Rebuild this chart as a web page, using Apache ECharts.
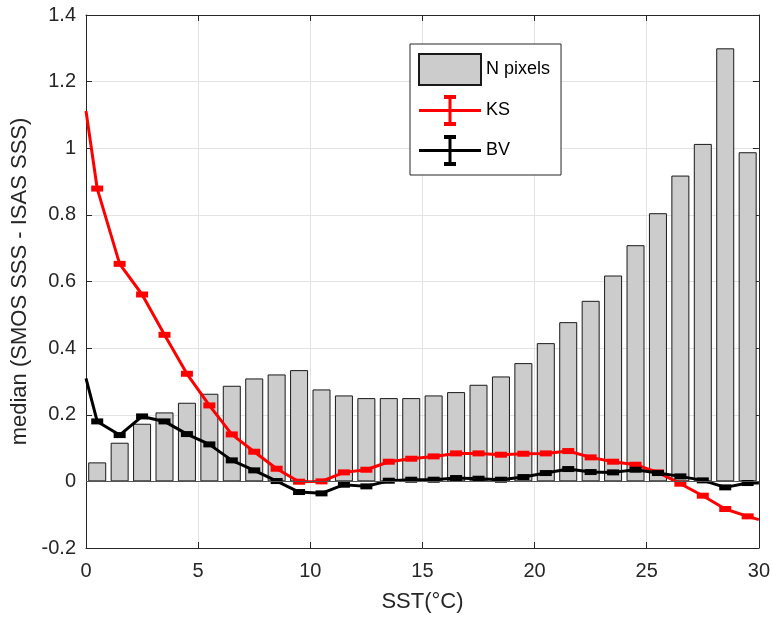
<!DOCTYPE html>
<html lang="en">
<head>
    <meta charset="UTF-8">
    <title>median SMOS - ISAS</title>
    <script type="text/javascript" src="https://cdn.jsdelivr.net/npm/echarts@6/dist/echarts.min.js"></script>
    <style>
        html, body { margin: 0; padding: 0; background: #fff; }
        #chart { width: 773px; height: 618px; }
    </style>
</head>
<body>
<div id="chart"></div>
<script type="text/javascript">
// bar centres (SST bins)
var sstMid = [0.5, 1.5, 2.5, 3.5, 4.5, 5.5, 6.5, 7.5, 8.5, 9.5,
              10.5, 11.5, 12.5, 13.5, 14.5, 15.5, 16.5, 17.5, 18.5, 19.5,
              20.5, 21.5, 22.5, 23.5, 24.5, 25.5, 26.5, 27.5, 28.5, 29.5];
// N pixels (scaled, drawn on the same axis)
var nPixels = [0.057, 0.116, 0.173, 0.207, 0.236, 0.263, 0.287, 0.309, 0.321, 0.334,
               0.276, 0.258, 0.250, 0.250, 0.250, 0.258, 0.268, 0.290, 0.315, 0.355,
               0.415, 0.478, 0.542, 0.618, 0.709, 0.805, 0.918, 1.013, 1.300, 0.988];
// line x positions: end points 0 and 30 plus bin centres
var lineX = [0, 0.5, 1.5, 2.5, 3.5, 4.5, 5.5, 6.5, 7.5, 8.5, 9.5,
             10.5, 11.5, 12.5, 13.5, 14.5, 15.5, 16.5, 17.5, 18.5, 19.5,
             20.5, 21.5, 22.5, 23.5, 24.5, 25.5, 26.5, 27.5, 28.5, 29.5, 30];
var ks = [1.112, 0.879, 0.653, 0.561, 0.440, 0.323, 0.228, 0.141, 0.089, 0.038, -0.001,
          0.000, 0.027, 0.035, 0.059, 0.068, 0.075, 0.084, 0.084, 0.080, 0.083,
          0.084, 0.091, 0.072, 0.059, 0.050, 0.027, -0.007, -0.043, -0.083, -0.105, -0.115];
var bv = [0.309, 0.180, 0.139, 0.195, 0.180, 0.142, 0.111, 0.063, 0.033, 0.001, -0.032,
          -0.036, -0.010, -0.015, 0.002, 0.005, 0.005, 0.010, 0.008, 0.005, 0.013,
          0.025, 0.037, 0.028, 0.027, 0.035, 0.025, 0.015, 0.003, -0.018, -0.005, -0.005];

var chart = echarts.init(document.getElementById('chart'));
var font = 'Liberation Sans, Arial, sans-serif';
var txt = '#262626';

function pairs(xs, ys) {
    var out = [];
    for (var i = 0; i < xs.length; i++) {
        var item = { value: [xs[i], ys[i]] };
        // no marker on the extrapolated end points
        if (i === 0 || i === xs.length - 1) item.symbol = 'none';
        out.push(item);
    }
    return out;
}
var barData = [];
for (var i = 0; i < sstMid.length; i++) barData.push([sstMid[i], nPixels[i]]);

// errorbar-like legend icon (62 x 31 box)
var errIcon = 'path://M0 14L62 14L62 17L0 17Z M29.5 2L32.5 2L32.5 29L29.5 29Z M25 0L37 0L37 4L25 4Z M25 27L37 27L37 31L25 31Z';

var axisLineStyle = { color: txt, width: 1 };
var option = {
    animation: false,
    textStyle: { fontFamily: font, color: txt },
    grid: { left: 86, right: 12, top: 15, bottom: 70 },
    legend: {
        orient: 'vertical',
        left: 410, top: 44,
        padding: [9, 11, 9, 8],
        itemWidth: 62, itemHeight: 31, itemGap: 9,
        symbolKeepAspect: false,
        backgroundColor: '#fff',
        borderColor: '#262626', borderWidth: 1,
        textStyle: { fontSize: 18, color: '#000', fontFamily: font },
        data: [
            { name: 'N pixels', icon: 'rect' },
            { name: 'KS', icon: errIcon },
            { name: 'BV', icon: errIcon }
        ]
    },
    xAxis: [{
        type: 'value', min: 0, max: 30, interval: 5,
        name: 'SST(°C)', nameLocation: 'middle', nameGap: 43,
        nameTextStyle: { fontSize: 22, color: txt, fontFamily: font },
        axisLine: { onZero: false, lineStyle: axisLineStyle },
        axisTick: { inside: true, length: 6, lineStyle: axisLineStyle },
        axisLabel: { fontSize: 20, color: txt, margin: 13, fontFamily: font },
        splitLine: { show: true, lineStyle: { color: '#e3e3e3' } }
    }, {
        type: 'value', min: 0, max: 30, interval: 5, position: 'top',
        axisLine: { onZero: false, lineStyle: axisLineStyle },
        axisTick: { inside: true, length: 6, lineStyle: axisLineStyle },
        axisLabel: { show: false },
        splitLine: { show: false }
    }],
    yAxis: [{
        type: 'value', min: -0.2, max: 1.4, interval: 0.2,
        name: 'median (SMOS SSS - ISAS SSS)', nameLocation: 'middle', nameGap: 52,
        nameTextStyle: { fontSize: 22, color: txt, fontFamily: font },
        axisLine: { show: true, onZero: false, lineStyle: axisLineStyle },
        axisTick: { show: true, inside: true, length: 6, lineStyle: axisLineStyle },
        axisLabel: {
            fontSize: 20, color: txt, margin: 10, fontFamily: font,
            formatter: function (v) { return String(Math.round(v * 10) / 10); }
        },
        splitLine: { show: true, lineStyle: { color: '#e3e3e3' } }
    }, {
        type: 'value', min: -0.2, max: 1.4, interval: 0.2, position: 'right',
        axisLine: { show: true, onZero: false, lineStyle: axisLineStyle },
        axisTick: { show: true, inside: true, length: 6, lineStyle: axisLineStyle },
        axisLabel: { show: false },
        splitLine: { show: false }
    }],
    series: [
        {
            name: 'N pixels', type: 'bar',
            barWidth: 18,
            itemStyle: { color: '#cccccc', borderColor: '#1a1a1a', borderWidth: 1 },
            data: barData,
            markLine: {
                silent: true, symbol: 'none', label: { show: false },
                lineStyle: { color: '#555', width: 1, type: 'solid' },
                data: [{ yAxis: 0 }]
            }
        },
        {
            name: 'KS', type: 'line',
            color: '#ff0000',
            symbol: 'rect', symbolSize: [12, 6],
            lineStyle: { width: 3, color: '#ff0000' },
            itemStyle: { color: '#ff0000' },
            data: pairs(lineX, ks)
        },
        {
            name: 'BV', type: 'line',
            color: '#000000',
            symbol: 'rect', symbolSize: [12, 6],
            lineStyle: { width: 3, color: '#000000' },
            itemStyle: { color: '#000000' },
            data: pairs(lineX, bv)
        }
    ]
};
chart.setOption(option);
</script>
</body>
</html>
